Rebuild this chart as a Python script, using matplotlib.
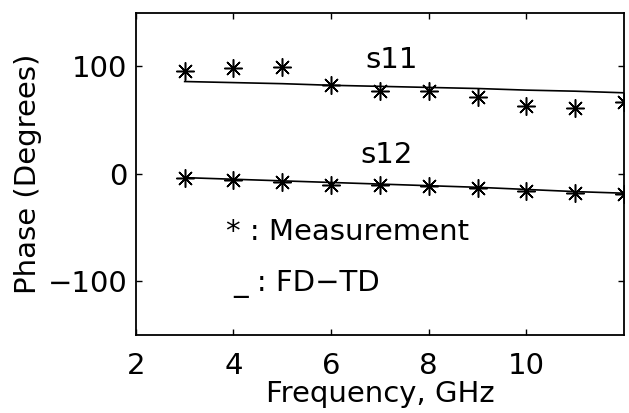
import matplotlib
matplotlib.use("Agg")
import matplotlib.pyplot as plt

freq = [3, 4, 5, 6, 7, 8, 9, 10, 11, 12]
s11_meas = [95.5, 98.5, 99.5, 82.5, 77, 77, 72, 63, 61, 67]
s11_fdtd = [86, 85, 84, 82.5, 81.5, 80.5, 79.5, 78, 77, 75.5]
s12_meas = [-4, -6, -7.5, -10, -10.5, -11.5, -13, -16, -17.5, -18.5]
s12_fdtd = [-3.5, -5, -6.5, -8, -9.5, -11, -12.5, -14.5, -16.5, -18]

xticks = [2, 4, 6, 8, 10]
yticks = [-100, 0, 100]

plt.rcParams['font.family'] = ['DejaVu Sans']
fig = plt.figure(figsize=(6.29, 4.13), dpi=100)
ax = fig.add_axes([0.216, 0.189, 0.776, 0.780])

ast = (8, 2, 0)
ax.plot(freq, s11_fdtd, color='black', lw=1.2)
ax.plot(freq, s12_fdtd, color='black', lw=1.2)
ax.plot(freq, s11_meas, linestyle='none', marker=ast, ms=13, mec='black', mew=1.1)
ax.plot(freq, s12_meas, linestyle='none', marker=ast, ms=13, mec='black', mew=1.1)

ax.set_xlim(2, 12)
ax.set_ylim(-150, 150)
ax.set_xticks(xticks)
ax.set_yticks(yticks)
ax.set_yticklabels(['\u2212100', '0', '100'])
ax.tick_params(direction='in', top=True, right=True, labelsize=21, length=4, width=1, pad=6)
ax.tick_params(axis='x', pad=12)
for s in ax.spines.values():
    s.set_linewidth(1.3)

fs = 21
ax.text(7.24, 106, 's11', fontsize=fs, ha='center', va='center')
ax.text(7.13, 18, 's12', fontsize=fs, ha='center', va='center')
ax.text(3.85, -54, '* : Measurement', fontsize=fs, ha='left', va='center')
ax.text(4.0, -103, '_ : FD\u2212TD', fontsize=fs, ha='left', va='center')

ax.set_xlabel('Frequency, GHz', fontsize=fs, labelpad=0)
ax.set_ylabel('Phase (Degrees)', fontsize=fs, labelpad=4)

fig.savefig('out.png', dpi=100)
